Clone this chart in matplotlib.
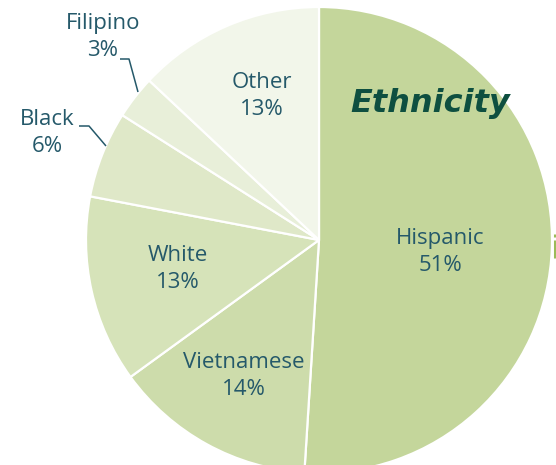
import matplotlib

matplotlib.use("Agg")
import matplotlib.pyplot as plt

# ethnicity breakdown, clockwise from 12 o'clock
groups = ["Hispanic", "Vietnamese", "White", "Black", "Filipino", "Other"]
shares = [51, 14, 13, 6, 3, 13]
colors = ["#c4d69b", "#cddcab", "#d6e3b9", "#dfe8c8", "#e8efd9", "#f2f6ea"]

TEXT = "#25596a"
W, H = 556, 465
CX, CY, R = 319, 240, 233  # pie centre / radius in pixels


def px(x, y):
    """pixel position (origin top-left) -> data units of the pie axes"""
    return (x - CX) / R, (CY - y) / R


# label block centres in pixels
label_px = [(440, 252), (244, 376), (178, 269), (47, 133), (103, 37), (262, 96)]
# leader lines for the small outside slices: text end -> elbow -> wedge rim
leaders = {
    "Black": [(79, 126), (89, 126), (106, 146)],
    "Filipino": [(120, 59), (129, 59), (138, 92)],
}

fig = plt.figure(figsize=(W / 100, H / 100), dpi=100)
ax = fig.add_axes([0, 0, 1, 1])

ax.pie(
    shares,
    colors=colors,
    startangle=90,
    counterclock=False,
    radius=1.0,
    wedgeprops=dict(edgecolor="white", linewidth=1.6),
)
# pie() resets the limits, so fix the view afterwards
ax.set_xlim(-CX / R, (W - CX) / R)
ax.set_ylim(-(H - CY) / R, CY / R)
ax.set_aspect("equal")
ax.axis("off")

for name, val, pos in zip(groups, shares, label_px):
    x, y = px(*pos)
    ax.text(x, y, f"{name}\n{val}%", ha="center", va="center",
            fontsize=16, color=TEXT, family="Open Sans", linespacing=1.4)

for pts in leaders.values():
    xs, ys = zip(*[px(*p) for p in pts])
    ax.plot(xs, ys, color=TEXT, linewidth=1.1, solid_capstyle="butt")

tx, ty = px(430, 104)
ax.text(tx, ty, "Ethnicity", ha="center", va="center", fontsize=23,
        fontstyle="italic", fontweight="bold", color="#0e4f40",
        family="DejaVu Sans")

# sliver of the neighbouring panel showing at the right edge
for seg in ([(554.5, 234), (554.5, 237)], [(554.5, 240), (554.5, 258)]):
    xs, ys = zip(*[px(*p) for p in seg])
    ax.plot(xs, ys, color="#9bbb59", linewidth=2.2, solid_capstyle="butt")

fig.savefig("out.png", dpi=100)
